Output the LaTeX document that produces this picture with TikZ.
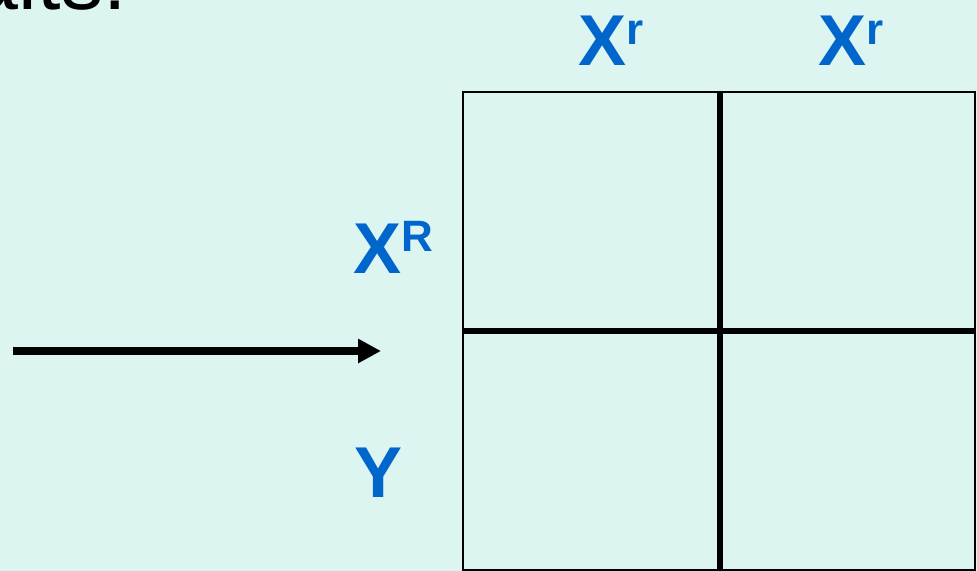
\documentclass[tikz,border=0pt]{standalone}
\usepackage{fontspec}
\setmainfont{Liberation Sans}
\usepackage{xcolor}
\usetikzlibrary{arrows.meta}

\definecolor{slidebg}{RGB}{221,245,241}
\definecolor{allele}{RGB}{0,102,204}

% allele label: letter with a raised superscript
\newcommand{\allelelabel}[2]{{\fontsize{41}{41}\selectfont\bfseries #1}%
  \raisebox{12pt}{\fontsize{25}{25}\selectfont\bfseries #2}}

\begin{document}
\begin{tikzpicture}[x=0.02cm, y=-0.02cm,
  >={Triangle[length=13pt, width=13pt]},
  lbl/.style={anchor=base west, inner sep=0pt, text=allele},
  outer/.style={draw, line width=1.3pt},
  divider/.style={draw, line width=2.9pt}]

\fill[slidebg] (0,0) rectangle (977,571);
\useasboundingbox (0,0) rectangle (977,571);

% title line, cut off at the top of the slide
\node[anchor=base east, inner sep=0pt, font=\fontsize{48}{48}\selectfont] (title) at (127,10) {aits:};

% punnett square
\coordinate (sqnw) at (463,92);
\coordinate (sqse) at (975,570);
\coordinate (sqmid) at (720,331);
\path[outer] (sqnw) rectangle (sqse);
\path[divider] (sqmid |- sqnw) -- (sqmid |- sqse);
\path[divider] (sqmid -| sqnw) -- (sqmid -| sqse);

% gametes
\node[lbl] (xr1) at (578,66) {\allelelabel{X}{r}};
\node[lbl] (xr2) at (818,66) {\allelelabel{X}{r}};
\node[lbl] (xR) at (353,273) {\allelelabel{X}{R}};
\node[lbl] (y) at (354,497) {\allelelabel{Y}{}};

% pointer
\coordinate (arrstart) at (13,351);
\coordinate (arrend) at (381,351);
\draw[->, line width=4.5pt] (arrstart) -- (arrend);
\end{tikzpicture}
\end{document}
